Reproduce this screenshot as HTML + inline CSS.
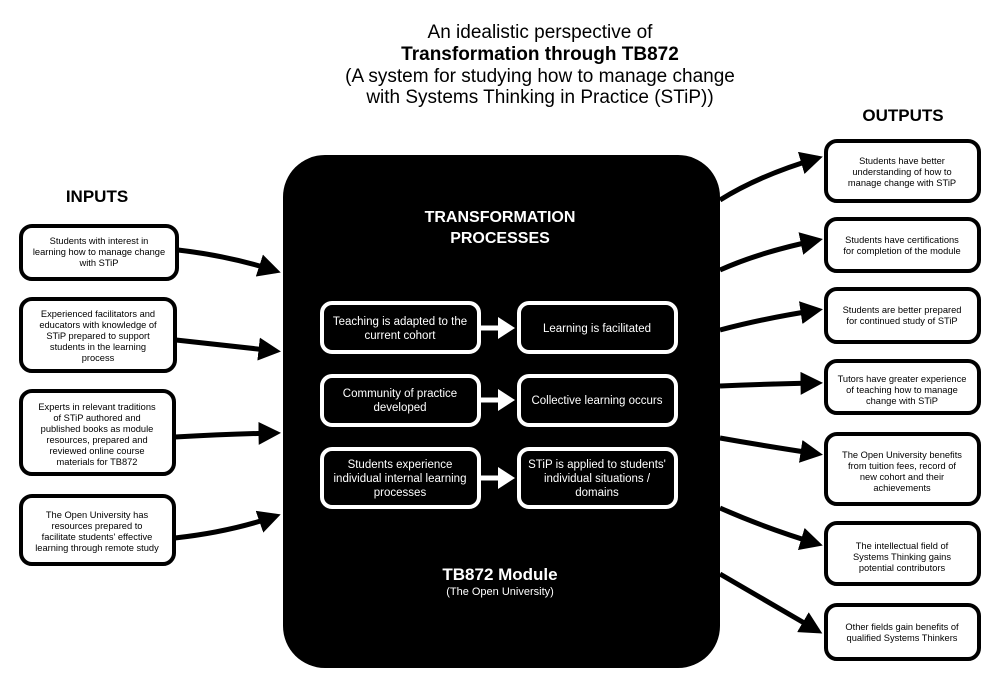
<!DOCTYPE html>
<html><head><meta charset="utf-8"><style>
body{margin:0;background:#fff}
svg{display:block}
text{font-family:"Liberation Sans",sans-serif}
</style></head><body>
<svg width="1000" height="680" viewBox="0 0 1000 680" xmlns="http://www.w3.org/2000/svg">
<defs>
<marker id="ah" markerWidth="4.5" markerHeight="4.6" refX="3.5" refY="2.3" orient="auto" markerUnits="strokeWidth">
<path d="M0,0 L4.5,2.3 L0,4.6 Z" fill="#000"/></marker>
<marker id="aw" markerWidth="3.4" markerHeight="4.4" refX="0" refY="2.2" orient="auto" markerUnits="strokeWidth">
<path d="M0,0 L3.4,2.2 L0,4.4 Z" fill="#fff"/></marker>
</defs>
<g text-anchor="middle" font-size="19" fill="#000">
<text x="540" y="38">An idealistic perspective of</text>
<text x="540" y="60" font-weight="bold">Transformation through TB872</text>
<text x="540" y="82">(A system for studying how to manage change</text>
<text x="540" y="103">with Systems Thinking in Practice (STiP))</text>
<text x="97" y="202" font-weight="bold" font-size="17">INPUTS</text>
<text x="903" y="121" font-weight="bold" font-size="17">OUTPUTS</text>
</g>
<rect x="283" y="155" width="437" height="513" rx="42" fill="#000"/>
<g text-anchor="middle" fill="#fff" font-weight="bold">
<text x="500" y="222" font-size="16">TRANSFORMATION</text>
<text x="500" y="243" font-size="16">PROCESSES</text>
<text x="500" y="580" font-size="17">TB872 Module</text>
<text x="500" y="595" font-size="11" font-weight="normal">(The Open University)</text>
</g>
<g fill="#000" stroke="#fff" stroke-width="4">
<rect x="322" y="303" width="157" height="49" rx="10"/>
<rect x="519" y="303" width="157" height="49" rx="10"/>
<rect x="322" y="376" width="157" height="49" rx="10"/>
<rect x="519" y="376" width="157" height="49" rx="10"/>
<rect x="322" y="449" width="157" height="58" rx="10"/>
<rect x="519" y="449" width="157" height="58" rx="10"/>
</g>
<g stroke="#fff" stroke-width="5" marker-end="url(#aw)">
<line x1="481" y1="328" x2="498" y2="328"/>
<line x1="481" y1="400" x2="498" y2="400"/>
<line x1="481" y1="478" x2="498" y2="478"/>
</g>
<g text-anchor="middle" fill="#fff" font-size="11.5">
<text x="400" y="325">Teaching is adapted to the</text>
<text x="400" y="339">current cohort</text>
<text x="597" y="332">Learning is facilitated</text>
<text x="400" y="397">Community of practice</text>
<text x="400" y="411">developed</text>
<text x="597" y="404">Collective learning occurs</text>
<text x="400" y="468">Students experience</text>
<text x="400" y="482">individual internal learning</text>
<text x="400" y="496">processes</text>
<text x="597" y="468">STiP is applied to students'</text>
<text x="597" y="482">individual situations /</text>
<text x="597" y="496">domains</text>
</g>
<g fill="#fff" stroke="#000" stroke-width="4">
<rect x="21" y="226" width="156" height="53" rx="11"/>
<rect x="21" y="299" width="154" height="72" rx="11"/>
<rect x="21" y="391" width="153" height="83" rx="11"/>
<rect x="21" y="496" width="153" height="68" rx="11"/>
<rect x="826" y="141" width="153" height="60" rx="11"/>
<rect x="826" y="219" width="153" height="52" rx="11"/>
<rect x="826" y="289" width="153" height="53" rx="11"/>
<rect x="826" y="361" width="153" height="52" rx="11"/>
<rect x="826" y="434" width="153" height="70" rx="11"/>
<rect x="826" y="523" width="153" height="61" rx="11"/>
<rect x="826" y="605" width="153" height="54" rx="11"/>
</g>
<g fill="none" stroke="#000" stroke-width="5" marker-end="url(#ah)">
<path d="M178,250 Q230,256 276,271"/>
<path d="M176,340 Q230,346 276,351"/>
<path d="M175,437 Q230,434 276,433"/>
<path d="M175,538 Q230,532 276,516"/>
<path d="M720,200 Q760,175 818,158"/>
<path d="M720,270 Q760,252 818,240"/>
<path d="M720,330 Q765,318 818,310"/>
<path d="M720,386 Q765,384 818,383"/>
<path d="M720,438 Q765,446 818,454"/>
<path d="M720,508 Q765,528 818,544"/>
<path d="M720,574 Q765,600 818,631"/>
</g>
<g text-anchor="middle" fill="#000" font-size="9.3">
<text x="99" y="244">Students with interest in</text>
<text x="99" y="255">learning how to manage change</text>
<text x="99" y="266">with STiP</text>
<text x="98" y="317">Experienced facilitators and</text>
<text x="98" y="328">educators with knowledge of</text>
<text x="98" y="339">STiP prepared to support</text>
<text x="98" y="350">students in the learning</text>
<text x="98" y="361">process</text>
<text x="97" y="410">Experts in relevant traditions</text>
<text x="97" y="421">of STiP authored and</text>
<text x="97" y="432">published books as module</text>
<text x="97" y="443">resources, prepared and</text>
<text x="97" y="454">reviewed online course</text>
<text x="97" y="465">materials for TB872</text>
<text x="97" y="518">The Open University has</text>
<text x="97" y="529">resources prepared to</text>
<text x="97" y="540">facilitate students' effective</text>
<text x="97" y="551">learning through remote study</text>
<text x="902" y="164">Students have better</text>
<text x="902" y="175">understanding of how to</text>
<text x="902" y="186">manage change with STiP</text>
<text x="902" y="243">Students have certifications</text>
<text x="902" y="254">for completion of the module</text>
<text x="902" y="313">Students are better prepared</text>
<text x="902" y="324">for continued study of STiP</text>
<text x="902" y="382">Tutors have greater experience</text>
<text x="902" y="393">of teaching how to manage</text>
<text x="902" y="404">change with STiP</text>
<text x="902" y="458">The Open University benefits</text>
<text x="902" y="469">from tuition fees, record of</text>
<text x="902" y="480">new cohort and their</text>
<text x="902" y="491">achievements</text>
<text x="902" y="549">The intellectual field of</text>
<text x="902" y="560">Systems Thinking gains</text>
<text x="902" y="571">potential contributors</text>
<text x="902" y="630">Other fields gain benefits of</text>
<text x="902" y="641">qualified Systems Thinkers</text>
</g>
</svg>
</body></html>
